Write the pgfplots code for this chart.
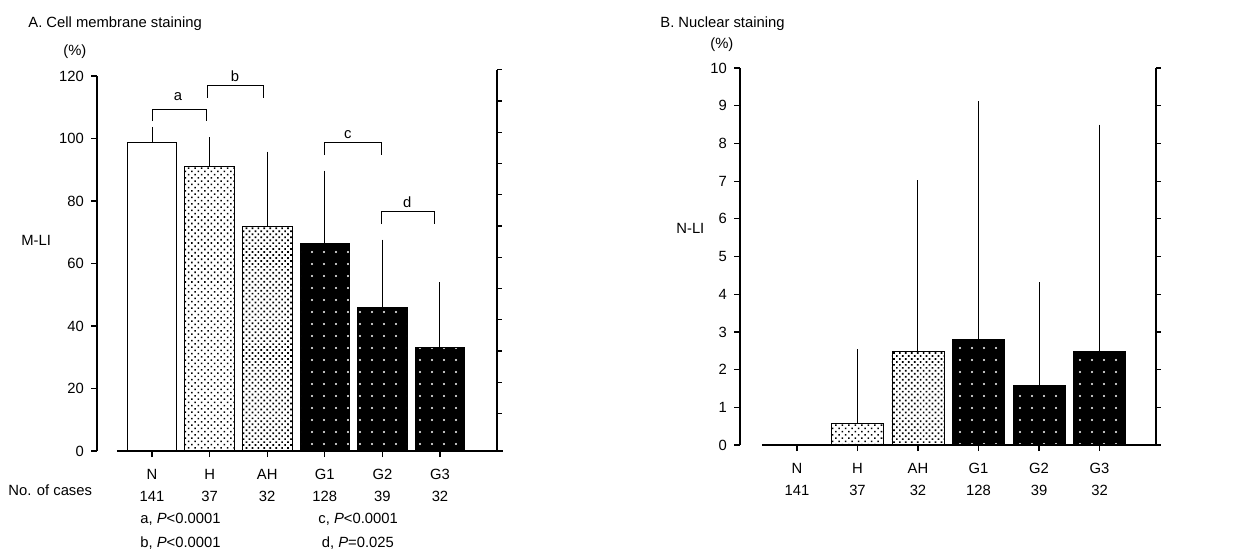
\documentclass[border=0pt]{standalone}
\usepackage{fontspec}
\setmainfont{Liberation Sans}
\usepackage{pgfplots}
\pgfplotsset{compat=1.18}
\usetikzlibrary{patterns.meta}

\newcommand\fs{\fontsize{7.4pt}{11pt}\selectfont}

\tikzset{
  white bar/.style={fill=white, draw=black, line width=0.5pt},
  lite bar/.style={draw=black, line width=0.4pt, pattern={Dots[distance=2.3pt,radius=0.55pt,angle=45]}, pattern color=black},
  mid bar/.style={draw=black, line width=0.4pt, pattern={Dots[distance=2.1pt,radius=0.6pt,angle=45]}, pattern color=black},
  dark bar/.style={fill=black, draw=black, line width=0.4pt, postaction={pattern={Dots[distance=6pt,radius=0.55pt]}, pattern color=white}},
}

\pgfplotsset{
  panel/.style={
    scale only axis, clip=false,
    axis y line*=left, axis x line*=bottom,
    axis line style={line width=0.6pt},
    x axis line style={draw=none},
    tick align=outside, major tick length=3pt,
    tick style={black, line width=0.6pt},
    ticklabel style={font=\fs},
    xticklabel style={align=center, yshift=-2.5pt},
    /pgf/number format/assume math mode=true,
    xtick={0,...,5},
    xticklabels={{N\\141},{H\\37},{AH\\32},{G1\\128},{G2\\39},{G3\\32}},
    ymin=0,
    bar width=0.86,
  },
  bars/.style={
    ybar, bar shift=0pt,
    error bars/y dir=plus, error bars/y explicit,
    error bars/error bar style={line width=0.5pt, black},
    error bars/error mark options={black, mark size=1.3pt, line width=0.5pt},
  },
}

\begin{document}
\begin{tikzpicture}
\path[use as bounding box] (0,0) rectangle (627.5pt,-276pt);

% ---------- A. Cell membrane staining ----------
\begin{axis}[panel,
  at={(48.5pt,-225.5pt)}, anchor=south west,
  width=200pt, height=187.5pt,
  xmin=-0.955, xmax=5.99, ymax=120,
  ytick={0,20,...,120},
]
\addplot[bars, white bar] coordinates {(0,98.7) +- (0,4.2)};
\addplot[bars, lite bar]  coordinates {(1,91.0) +- (0,8.5)};
\addplot[bars, mid bar]   coordinates {(2,71.8) +- (0,23.2)};
\addplot[bars, dark bar]  coordinates {(3,66.5) +- (0,22.4)};
\addplot[bars, dark bar]  coordinates {(4,45.8) +- (0,21.0)};
\addplot[bars, dark bar]  coordinates {(5,33.2) +- (0,19.9)};

% baseline and mirrored right axis
\draw[line width=0.6pt] (axis cs:-0.61,0) -- (axis cs:6.09,0);
\draw[line width=0.6pt] (axis cs:5.99,0) -- (axis cs:5.99,122);
\draw[line width=0.6pt]
  (axis cs:5.99,12) -- (axis cs:6.077,12) (axis cs:5.99,22) -- (axis cs:6.077,22)
  (axis cs:5.99,32) -- (axis cs:6.077,32) (axis cs:5.99,42) -- (axis cs:6.077,42)
  (axis cs:5.99,52) -- (axis cs:6.077,52) (axis cs:5.99,62) -- (axis cs:6.077,62)
  (axis cs:5.99,72) -- (axis cs:6.077,72) (axis cs:5.99,82) -- (axis cs:6.077,82)
  (axis cs:5.99,92) -- (axis cs:6.077,92) (axis cs:5.99,102) -- (axis cs:6.077,102)
  (axis cs:5.99,112) -- (axis cs:6.077,112) (axis cs:5.99,122) -- (axis cs:6.077,122);

% significance brackets
\draw[line width=0.5pt] (axis cs:0,105.6) |- (axis cs:0.94,109.4) -- (axis cs:0.94,105.6);
\node[font=\fs] at (axis cs:0.45,113.3) {a};
\draw[line width=0.5pt] (axis cs:0.955,113) |- (axis cs:1.93,117) -- (axis cs:1.93,113);
\node[font=\fs] at (axis cs:1.44,120) {b};
\draw[line width=0.5pt] (axis cs:3.0,94.7) |- (axis cs:3.99,98.6) -- (axis cs:3.99,94.7);
\node[font=\fs] at (axis cs:3.4,101.1) {c};
\draw[line width=0.5pt] (axis cs:3.99,72.6) |- (axis cs:4.9,76.5) -- (axis cs:4.9,72.6);
\node[font=\fs] at (axis cs:4.43,79.7) {d};
\end{axis}

% ---------- B. Nuclear staining ----------
\begin{axis}[panel,
  at={(370pt,-222.5pt)}, anchor=south west,
  width=208pt, height=188.5pt,
  xmin=-0.942, xmax=5.934, ymax=10,
  ytick={0,...,10},
]
\addplot[bars, white bar] coordinates {(0,0)};
\addplot[bars, lite bar]  coordinates {(1,0.58) +- (0,1.89)};
\addplot[bars, mid bar]   coordinates {(2,2.47) +- (0,4.48)};
\addplot[bars, dark bar]  coordinates {(3,2.79) +- (0,6.26)};
\addplot[bars, dark bar]  coordinates {(4,1.57) +- (0,2.68)};
\addplot[bars, dark bar]  coordinates {(5,2.49) +- (0,5.94)};

\draw[line width=0.6pt] (axis cs:-0.58,0) -- (axis cs:6.02,0);
\draw[line width=0.6pt] (axis cs:5.934,0) -- (axis cs:5.934,10);
\draw[line width=0.6pt]
  (axis cs:5.934,1) -- (axis cs:6.017,1) (axis cs:5.934,2) -- (axis cs:6.017,2)
  (axis cs:5.934,3) -- (axis cs:6.017,3) (axis cs:5.934,4) -- (axis cs:6.017,4)
  (axis cs:5.934,5) -- (axis cs:6.017,5) (axis cs:5.934,6) -- (axis cs:6.017,6)
  (axis cs:5.934,7) -- (axis cs:6.017,7) (axis cs:5.934,8) -- (axis cs:6.017,8)
  (axis cs:5.934,9) -- (axis cs:6.017,9) (axis cs:5.934,10) -- (axis cs:6.017,10);
\end{axis}

% ---------- titles and notes (pixel grid, origin top left) ----------
\begin{scope}[x=0.5pt, y=-0.5pt, every node/.style={font=\fs, inner sep=0pt}]
\node[anchor=base west] at (28,27) {A. Cell membrane staining};
\node[anchor=base west] at (63,55) {(\%)};
\node[anchor=base west] at (21,245) {M-LI};
\node[anchor=base west] at (8,495) {No. of cases};
\node[anchor=base west] at (140,523.5) {a, \textit{P}<0.0001};
\node[anchor=base west] at (140,547) {b, \textit{P}<0.0001};
\node[anchor=base west] at (318,523.5) {c, \textit{P}<0.0001};
\node[anchor=base west] at (321.5,547) {d, \textit{P}=0.025};
\node[anchor=base west] at (660,27) {B. Nuclear staining};
\node[anchor=base west] at (710,48) {(\%)};
\node[anchor=base west] at (676,233) {N-LI};
\end{scope}
\end{tikzpicture}
\end{document}
